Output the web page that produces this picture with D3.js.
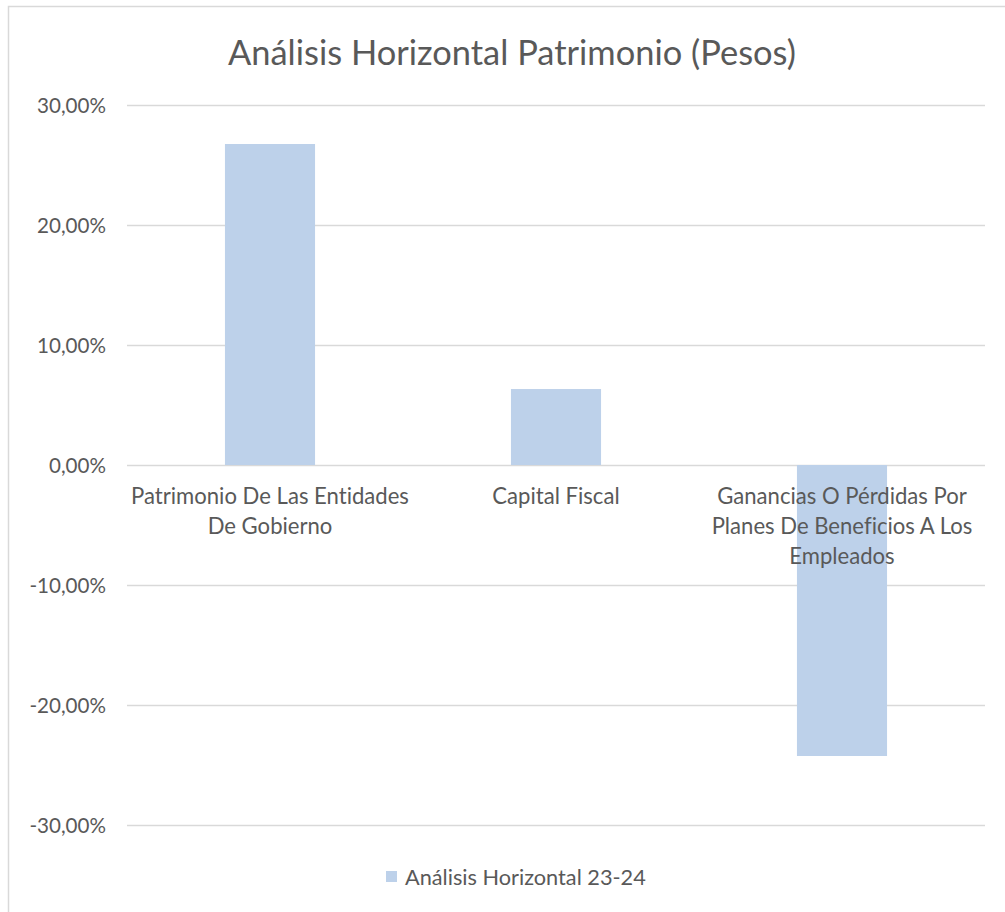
<!DOCTYPE html>
<html><head><meta charset="utf-8">
<script src="https://cdn.jsdelivr.net/npm/d3@7"></script>
<style>body{margin:0;background:#fff} text{font-variant-ligatures:none;font-feature-settings:"liga" 0,"clig" 0}</style>
</head><body>
<svg id="c" width="1005" height="912"></svg>
<script>
const title = "Análisis Horizontal Patrimonio (Pesos)";
const categories = ["Patrimonio De Las Entidades De Gobierno", "Capital Fiscal", "Ganancias O Pérdidas Por Planes De Beneficios A Los Empleados"];
const values = [0.2675, 0.0633, -0.2425];
const seriesName = "Análisis Horizontal 23-24";
const yTicks = [-0.3, -0.2, -0.1, 0, 0.1, 0.2, 0.3];

const FONT = "Lato, sans-serif";
const TXT = "#595959";
const svg = d3.select("#c");

// pick a font size so that a sample string has a target width
function fitSize(str, target, weight) {
  const p = svg.append("text").attr("font-family", FONT).attr("font-size", 20)
    .attr("font-weight", weight || 400).text(str);
  const w = p.node().getComputedTextLength();
  p.remove();
  return 20 * target / w;
}
const titleSize = fitSize(title, 568);
const labelSize = fitSize("Patrimonio De Las Entidades", 278);
const tickSize = fitSize("20,00%", 69);
const legendSize = fitSize(seriesName, 241);

// chart border
svg.append("rect").attr("x", 8.5).attr("y", 6.5).attr("width", 1010).attr("height", 920)
  .attr("fill", "#fff").attr("stroke", "#d9d9d9").attr("stroke-width", 1.5);

const x = d3.scaleBand().domain(categories).range([127, 985]).paddingInner(0.685).paddingOuter(0.3425);
const y = d3.scaleLinear().domain([-0.3, 0.3]).range([825, 105]);

const fmt = v => (v < 0 ? "-" : "") + d3.format(".2f")(Math.abs(v) * 100).replace(".", ",") + "%";

// gridlines
svg.append("g").selectAll("line").data(yTicks).join("line")
  .attr("x1", 127).attr("x2", 985)
  .attr("y1", d => Math.round(y(d)) + 0.5).attr("y2", d => Math.round(y(d)) + 0.5)
  .attr("stroke", "#d9d9d9").attr("stroke-width", 1.5);

// y axis labels via d3 axis
const yAxis = d3.axisLeft(y).tickValues(yTicks).tickFormat(fmt).tickSize(0).tickPadding(0);
const ga = svg.append("g").attr("transform", "translate(106,0)").call(yAxis);
ga.select(".domain").remove();
ga.selectAll("text").attr("font-family", FONT).attr("font-size", tickSize).attr("fill", TXT).attr("dy", "0.36em");

// bars
svg.append("g").selectAll("rect").data(values).join("rect")
  .attr("x", (d, i) => x(categories[i]))
  .attr("width", x.bandwidth())
  .attr("y", d => y(Math.max(0, d)))
  .attr("height", d => Math.abs(y(d) - y(0)))
  .attr("fill", "#bdd1ea");

// category labels with wrapping
const maxW = 283;
categories.forEach((c, i) => {
  const t = svg.append("text").attr("font-family", FONT).attr("font-size", labelSize).attr("fill", TXT)
    .attr("text-anchor", "middle");
  const words = c.split(" ");
  let lines = [], cur = "";
  const probe = svg.append("text").attr("font-family", FONT).attr("font-size", labelSize);
  words.forEach(w => {
    const test = cur ? cur + " " + w : w;
    probe.text(test);
    if (probe.node().getComputedTextLength() > maxW && cur) { lines.push(cur); cur = w; }
    else cur = test;
  });
  lines.push(cur);
  probe.remove();
  const cx = x(c) + x.bandwidth() / 2;
  lines.forEach((l, j) => {
    t.append("tspan").attr("x", cx).attr("y", 504 + j * 30).text(l);
  });
});

// title
svg.append("text").attr("x", 512).attr("y", 65).attr("text-anchor", "middle")
  .attr("font-family", FONT).attr("font-size", titleSize).attr("fill", TXT).text(title);

// legend
svg.append("rect").attr("x", 386).attr("y", 871).attr("width", 11).attr("height", 11).attr("fill", "#bdd1ea");
svg.append("text").attr("x", 405).attr("y", 885).attr("font-family", FONT).attr("font-size", legendSize)
  .attr("fill", TXT).text(seriesName);
</script>
</body></html>
